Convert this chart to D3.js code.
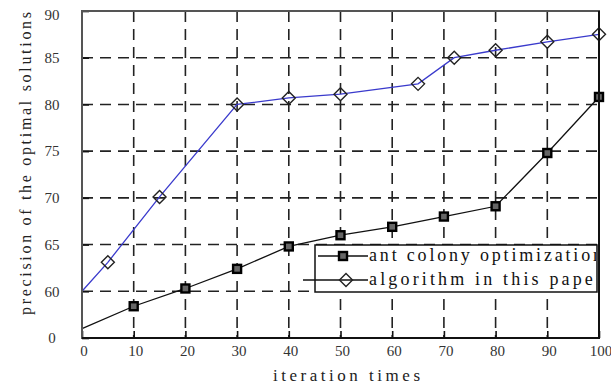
<!DOCTYPE html>
<html>
<head>
<meta charset="utf-8">
<script src="https://cdn.jsdelivr.net/npm/d3@7"></script>
<style>
html,body{margin:0;padding:0;background:#fff;}
svg{display:block;}
</style>
</head>
<body>
<script>
// ---- data ----
const xAnt = [0, 10, 20, 30, 40, 50, 60, 70, 80, 90, 100];
const antValues = [56.0, 58.4, 60.3, 62.4, 64.8, 66.0, 66.9, 68.0, 69.1, 74.8, 80.8];
const xOurs = [0, 5, 15, 30, 40, 50, 65, 72, 80, 90, 100];
const oursValues = [60.0, 63.1, 70.1, 80.0, 80.7, 81.1, 82.2, 85.0, 85.8, 86.7, 87.5];
const seriesNames = ["ant colony optimization", "algorithm in this paper"];
const xTicks = [0, 10, 20, 30, 40, 50, 60, 70, 80, 90, 100];
const yTicks = [55, 60, 65, 70, 75, 80, 85, 90];
const yTickLabels = ["0", "60", "65", "70", "75", "80", "85", "90"];
const xTitle = "iteration times";
const yTitle = "precision of the optimal solutions";

const W = 611, H = 387;
const L = 82, R = 599, T = 11, B = 338;

const svg = d3.select("body").append("svg").attr("width", W).attr("height", H);
const x = d3.scaleLinear().domain([0, 100]).range([L, R]);
const y = d3.scaleLinear().domain([55, 90]).range([B, T]);

// grid
const g = svg.append("g");
g.selectAll("line.vg").data(xTicks.slice(1, -1)).join("line")
  .attr("x1", d => x(d)).attr("x2", d => x(d)).attr("y1", T).attr("y2", B)
  .attr("stroke", "#222").attr("stroke-width", 1.6).attr("stroke-dasharray", "11,7");
g.selectAll("line.hg").data(yTicks.slice(1, -1)).join("line")
  .attr("y1", d => y(d)).attr("y2", d => y(d)).attr("x1", L).attr("x2", R)
  .attr("stroke", "#222").attr("stroke-width", 1.6).attr("stroke-dasharray", "11,7");

// axes with inward ticks
const xAxis = svg.append("g").attr("transform", `translate(0,${B})`)
  .call(d3.axisTop(x).tickValues(xTicks).tickSize(7).tickFormat(""));
xAxis.select(".domain").remove();
xAxis.selectAll("line").attr("stroke", "#111").attr("stroke-width", 1.6);
const yAxis = svg.append("g").attr("transform", `translate(${L},0)`)
  .call(d3.axisRight(y).tickValues(yTicks).tickSize(7).tickFormat(""));
yAxis.select(".domain").remove();
yAxis.selectAll("line").attr("stroke", "#111").attr("stroke-width", 1.6);

// tick labels
svg.append("g").selectAll("text").data(xTicks).join("text")
  .attr("x", d => x(d) + 2).attr("y", 356)
  .attr("text-anchor", "middle")
  .attr("font-family", "Liberation Serif").attr("font-size", 15).attr("fill", "#333")
  .text(d => d);
svg.append("g").selectAll("text").data(yTicks).join("text")
  .attr("x", 52).attr("y", (d, i) => y(d) + (i === yTicks.length - 1 ? 4 : 0))
  .attr("dy", "0.35em")
  .attr("text-anchor", "middle")
  .attr("font-family", "Liberation Serif").attr("font-size", 15).attr("fill", "#333")
  .text((d, i) => yTickLabels[i]);

// titles
svg.append("text").attr("x", 273).attr("y", 381)
  .attr("font-family", "Liberation Serif").attr("font-size", 17).attr("fill", "#222")
  .attr("textLength", 147).attr("lengthAdjust", "spacing")
  .text(xTitle);
svg.append("text").attr("transform", "translate(25,315) rotate(-90)")
  .attr("dominant-baseline", "central")
  .attr("font-family", "Liberation Serif").attr("font-size", 16).attr("fill", "#222")
  .attr("textLength", 303).attr("lengthAdjust", "spacing")
  .text(yTitle);

// lines
const line = d3.line().x(d => x(d[0])).y(d => y(d[1]));
const antPts = xAnt.map((v, i) => [v, antValues[i]]);
const oursPts = xOurs.map((v, i) => [v, oursValues[i]]);

svg.append("path").datum(antPts).attr("d", line)
  .attr("fill", "none").attr("stroke", "#111").attr("stroke-width", 1.3);
svg.append("path").datum(oursPts).attr("d", line)
  .attr("fill", "none").attr("stroke", "#3a3acc").attr("stroke-width", 1.3);

function square(sel, cx, cy) {
  sel.append("rect").attr("x", cx - 4).attr("y", cy - 4).attr("width", 8).attr("height", 8)
    .attr("fill", "#666").attr("stroke", "#000").attr("stroke-width", 2.4);
}
function diamond(sel, cx, cy) {
  const s = 6.5;
  sel.append("path")
    .attr("d", `M${cx},${cy - s}L${cx + s},${cy}L${cx},${cy + s}L${cx - s},${cy}Z`)
    .attr("fill", "none").attr("stroke", "#222").attr("stroke-width", 1.4);
}
const mk = svg.append("g");
antPts.slice(1).forEach(p => square(mk, x(p[0]), y(p[1])));
oursPts.slice(1).forEach(p => diamond(mk, x(p[0]), y(p[1])));

// frame
svg.append("rect").attr("x", L).attr("y", T).attr("width", R - L).attr("height", B - T)
  .attr("fill", "none").attr("stroke", "#555").attr("stroke-width", 2);
svg.append("path").attr("d", `M${L},${B}L${R},${B}L${R},${T}`)
  .attr("fill", "none").attr("stroke", "#111").attr("stroke-width", 2);

// legend
const lx0 = 315, lx1 = 597, ly0 = 245, ly1 = 292;
svg.append("defs").append("clipPath").attr("id", "legclip")
  .append("rect").attr("x", lx0).attr("y", ly0).attr("width", lx1 - lx0 - 1).attr("height", ly1 - ly0);
const leg = svg.append("g");
leg.append("rect").attr("x", lx0).attr("y", ly0).attr("width", lx1 - lx0).attr("height", ly1 - ly0)
  .attr("fill", "#fff").attr("stroke", "#111").attr("stroke-width", 1.5);
leg.append("line").attr("x1", 318).attr("x2", 368).attr("y1", 256).attr("y2", 256)
  .attr("stroke", "#111").attr("stroke-width", 1.3);
leg.append("line").attr("x1", 303).attr("x2", 368).attr("y1", 280).attr("y2", 280)
  .attr("stroke", "#111").attr("stroke-width", 1.3);
square(leg, 343, 256);
diamond(leg, 346, 280);
const lt = leg.append("g").attr("clip-path", "url(#legclip)");
lt.selectAll("text").data(seriesNames).join("text")
  .attr("x", 369).attr("y", (d, i) => 261 + i * 24)
  .attr("font-family", "Liberation Serif").attr("font-size", 18).attr("fill", "#111")
  .attr("textLength", 233).attr("lengthAdjust", "spacing")
  .text(d => d);
</script>
</body>
</html>
